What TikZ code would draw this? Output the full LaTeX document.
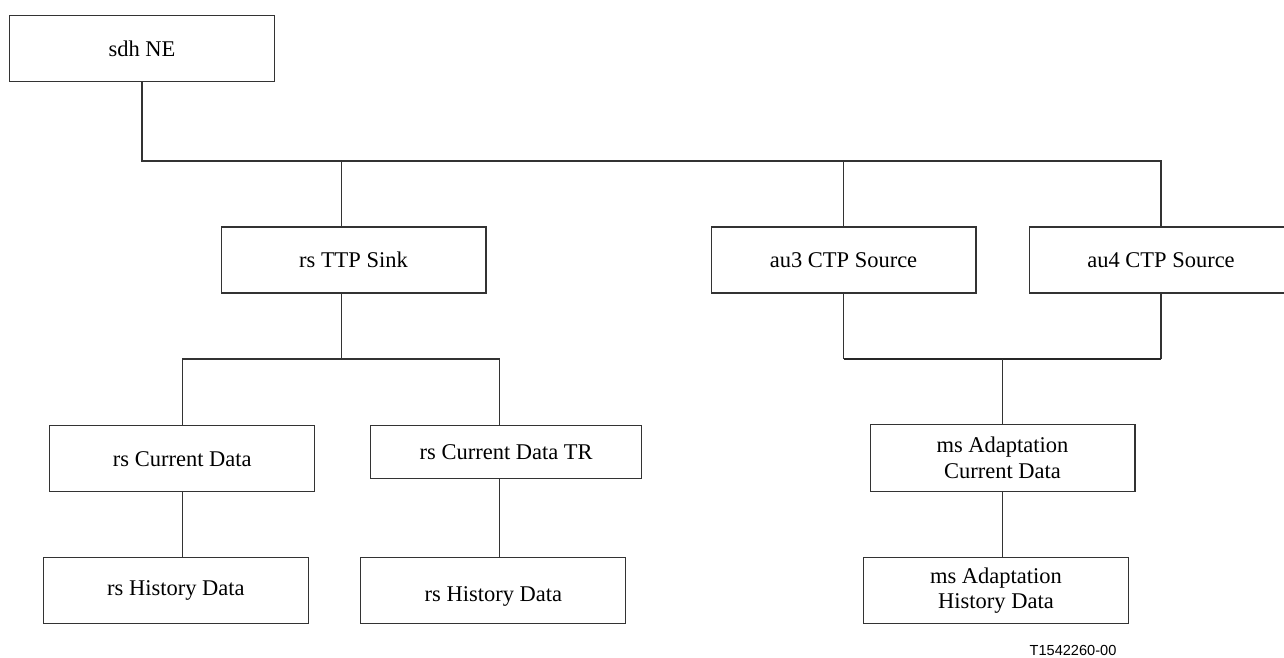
\documentclass[tikz,border=0pt]{standalone}
\usepackage{fontspec}
\setmainfont{Liberation Serif}
\newfontfamily\figfont{Liberation Sans}
\usepackage{tikz}
\usetikzlibrary{calc}

\begin{document}
\begin{tikzpicture}[x=0.02cm, y=-0.02cm,
        box/.style={draw=black!80, line width=0.6pt, rectangle, inner sep=0pt, align=center,
          minimum width=5.3cm, minimum height=1.32cm, font=\fontsize{12.8}{14.5}\selectfont},
        link/.style={draw=black!80, line width=0.6pt},
        bar/.style={draw=black!85, line width=1.3pt}
      ]
    \useasboundingbox (0,0) rectangle (1284,657);

    \node[box] (sdh) at (142,48.5) {sdh NE};

    \node[box] (ttp) at (353.5,260) {rs TTP Sink};
    \node[box] (au3) at (843.5,260) {au3 CTP Source};
    \node[box, minimum width=5.28cm] (au4) at (1161,260) {au4 CTP Source};

    \node[box] (cur) at (182.3,458.7) {rs Current Data};
    \node[box, minimum width=5.42cm, minimum height=1.05cm] (tr) at (506.2,452) {rs Current Data TR};
    \node[box] (hist1) at (175.9,590.8) {rs History Data};
    \node[box, text height=12.4pt, text depth=0pt] (hist2) at (493.4,590.8) {rs History Data};

    \node[box, minimum height=1.34cm] (msc) at (1002.5,457.7) {ms Adaptation\\Current Data};
    \node[box] (msh) at (996,590.8) {ms Adaptation\\History Data};

    \node[font=\figfont\fontsize{8.3}{10}\selectfont, inner sep=0pt] (fig) at (1073,650) {T1542260-00};

    % bus lines
    \coordinate (topbus) at (0,161);
    \coordinate (rsbus) at (0,359);
    \coordinate (msbus) at (0,359);
    \coordinate (ttpup) at ([xshift=-7pt]ttp.north);
    \coordinate (ttpdn) at ([xshift=-7pt]ttp.south);
    \coordinate (trup) at ([xshift=-3.6pt]tr.north);
    \coordinate (trdn) at ([xshift=-3.6pt]tr.south);

    \draw[link] (sdh.south) |- (au4.north |- topbus) -- (au4.north);
    \draw[link] (au3.north) -- (au3.north |- topbus);
    \draw[link] (ttpup) -- (ttpup |- topbus);

    \draw[link] (ttpdn) -- (ttpdn |- rsbus);
    \draw[link] (cur.north) |- (trup |- rsbus) -- (trup);
    \draw[link] (cur.south) -- (cur.south |- hist1.north);
    \draw[link] (trdn) -- (trdn |- hist2.north);

    \draw[link] (au3.south) -- (au3.south |- msbus);
    \draw[link] (au4.south) -- (au4.south |- msbus);
    \draw[bar] (au3.south |- msbus) -- (au4.south |- msbus);
    \draw[link] (msc.north) -- (msc.north |- msbus);
    \draw[link] (msc.south) -- (msc.south |- msh.north);

\end{tikzpicture}
\end{document}
